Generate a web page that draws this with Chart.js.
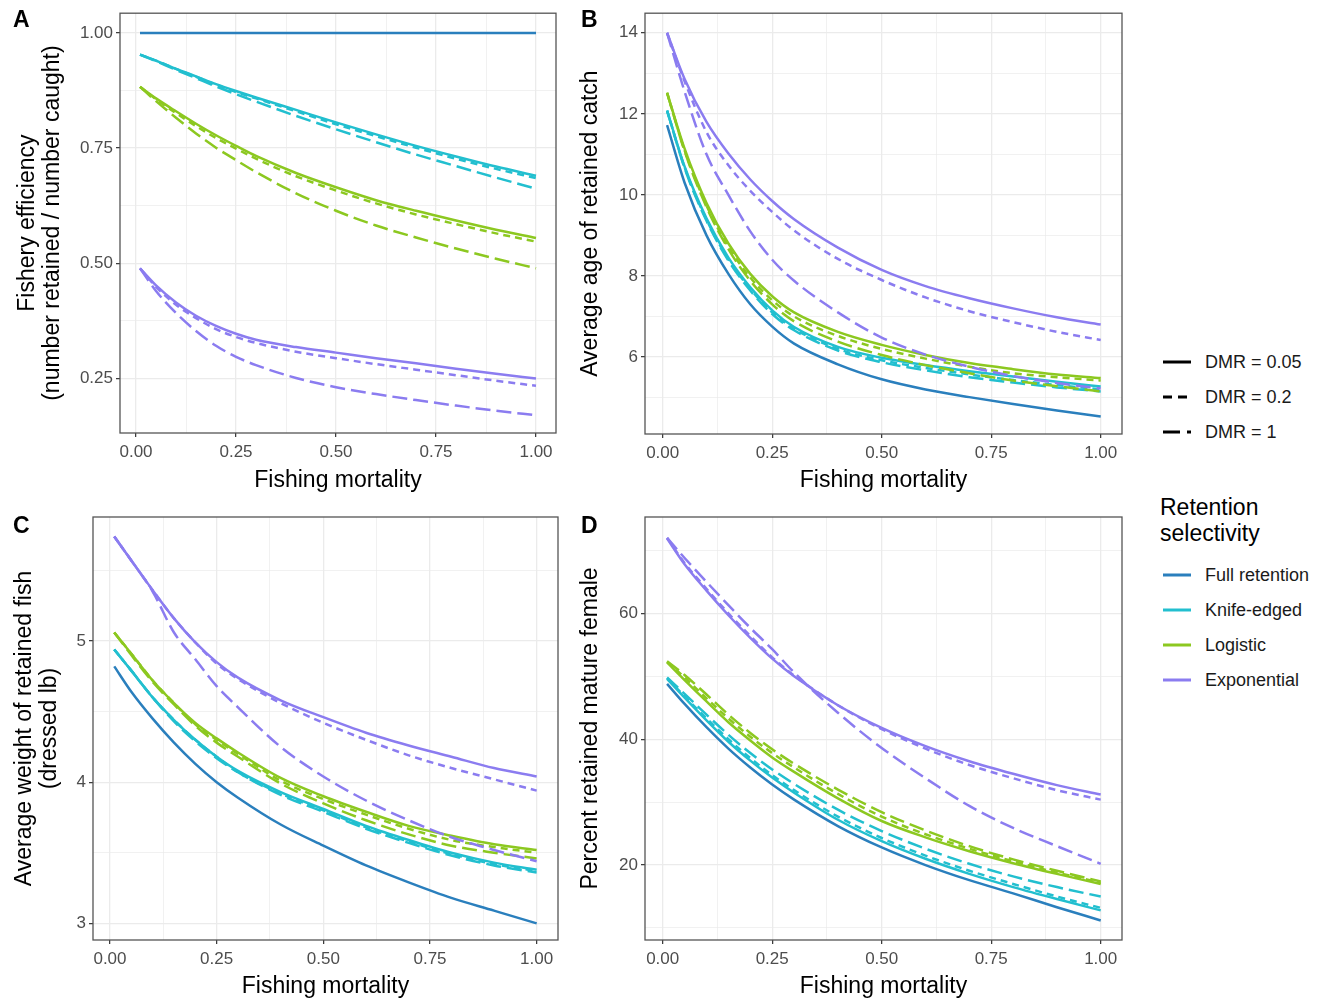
<!DOCTYPE html>
<html>
<head>
<meta charset="utf-8">
<script src="https://cdn.jsdelivr.net/npm/chart.js@4.4.1/dist/chart.umd.min.js"></script>
<style>
  body { margin: 0; background: #fff; font-family: "Liberation Sans", Arial, sans-serif; }
  #wrap { position: relative; width: 1318px; height: 1000px; overflow: hidden; }
  #wrap canvas { position: absolute; }
  .tag { position: absolute; font-weight: bold; font-size: 23px; line-height: 1; color: #000; }
  .key { position: absolute; left: 1162px; height: 22px; display: flex; align-items: center; font-size: 18px; color: #1a1a1a; white-space: nowrap; }
  .key svg { margin-right: 13px; }
  .ltitle { position: absolute; left: 1160px; top: 494px; font-size: 23px; line-height: 26px; color: #000; }
</style>
</head>
<body>
<div id="wrap">
  <canvas id="chartA" width="560" height="500" style="left:0;top:0"></canvas>
  <canvas id="chartB" width="580" height="500" style="left:560px;top:0"></canvas>
  <canvas id="chartC" width="560" height="500" style="left:0;top:500px"></canvas>
  <canvas id="chartD" width="580" height="500" style="left:560px;top:500px"></canvas>
  <div class="tag" style="left:13px;top:8px">A</div>
  <div class="tag" style="left:581px;top:8px">B</div>
  <div class="tag" style="left:13px;top:514px">C</div>
  <div class="tag" style="left:581px;top:514px">D</div>
  <div class="ltitle">Retention<br>selectivity</div>
  <div id="legend"></div>
</div>
<script>
// 横軸：漁獲死亡率
const fishingMortality = [0.01, 0.05, 0.1, 0.15, 0.2, 0.25, 0.3, 0.4, 0.5, 0.6, 0.7, 0.8, 0.9, 1.0];
const xTickValues = [0, 0.25, 0.5, 0.75, 1];
const xTickLabels = ['0.00', '0.25', '0.50', '0.75', '1.00'];

const dmrLabels = ['DMR = 0.05', 'DMR = 0.2', 'DMR = 1'];
const selectivityLabels = ['Full retention', 'Knife-edged', 'Logistic', 'Exponential'];

// A: Fishery efficiency（行は DMR 0.05 / 0.2 / 1）
const effTicks = [0.25, 0.5, 0.75, 1];
const effTickLabels = ['0.25', '0.50', '0.75', '1.00'];
const effFull = [1, 1, 1, 1, 1, 1, 1, 1, 1, 1, 1, 1, 1, 1];
const effKnife = [
  [0.953, 0.940, 0.922, 0.906, 0.889, 0.874, 0.860, 0.833, 0.806, 0.780, 0.755, 0.732, 0.710, 0.690],
  [0.953, 0.940, 0.922, 0.905, 0.888, 0.872, 0.858, 0.830, 0.802, 0.776, 0.751, 0.727, 0.705, 0.685],
  [0.953, 0.939, 0.920, 0.902, 0.884, 0.867, 0.851, 0.820, 0.791, 0.763, 0.736, 0.711, 0.686, 0.662]
];
const effLogistic = [
  [0.883, 0.858, 0.830, 0.803, 0.778, 0.755, 0.733, 0.696, 0.665, 0.637, 0.614, 0.593, 0.573, 0.555],
  [0.883, 0.856, 0.826, 0.798, 0.772, 0.749, 0.727, 0.689, 0.658, 0.630, 0.606, 0.585, 0.565, 0.547],
  [0.883, 0.852, 0.816, 0.782, 0.751, 0.724, 0.698, 0.652, 0.614, 0.582, 0.556, 0.532, 0.510, 0.489]
];
const effExpo = [
  [0.489, 0.452, 0.415, 0.386, 0.364, 0.347, 0.334, 0.318, 0.306, 0.294, 0.283, 0.271, 0.260, 0.250],
  [0.489, 0.449, 0.410, 0.381, 0.357, 0.340, 0.327, 0.308, 0.294, 0.281, 0.269, 0.257, 0.245, 0.234],
  [0.489, 0.440, 0.392, 0.353, 0.321, 0.297, 0.279, 0.251, 0.231, 0.216, 0.203, 0.191, 0.180, 0.170]
];

// B: Average age of retained catch
const ageTicks = [6, 8, 10, 12, 14];
const ageTickLabels = ['6', '8', '10', '12', '14'];
const ageFull = [11.72, 10.3, 9.0, 8.05, 7.3, 6.75, 6.33, 5.82, 5.45, 5.2, 5.01, 4.84, 4.68, 4.53];
const ageKnife = [
  [12.08, 10.7, 9.42, 8.45, 7.72, 7.15, 6.74, 6.25, 5.98, 5.8, 5.65, 5.52, 5.39, 5.27],
  [12.08, 10.68, 9.39, 8.41, 7.68, 7.1, 6.7, 6.2, 5.92, 5.73, 5.57, 5.43, 5.31, 5.2],
  [12.08, 10.66, 9.36, 8.38, 7.64, 7.06, 6.66, 6.16, 5.87, 5.67, 5.5, 5.37, 5.25, 5.15]
];
const ageLogistic = [
  [12.52, 11.14, 9.8, 8.8, 8.05, 7.5, 7.1, 6.62, 6.3, 6.05, 5.85, 5.7, 5.57, 5.48],
  [12.52, 11.1, 9.74, 8.72, 7.96, 7.4, 7.0, 6.52, 6.2, 5.96, 5.76, 5.6, 5.5, 5.42],
  [12.52, 11.08, 9.7, 8.66, 7.88, 7.3, 6.88, 6.38, 6.05, 5.8, 5.6, 5.42, 5.28, 5.15]
];
const ageExpo = [
  [14.0, 12.86, 11.8, 11.02, 10.38, 9.85, 9.4, 8.7, 8.15, 7.75, 7.45, 7.2, 6.98, 6.8],
  [14.0, 12.8, 11.55, 10.73, 10.1, 9.58, 9.12, 8.42, 7.9, 7.47, 7.13, 6.86, 6.62, 6.42],
  [14.0, 12.55, 11.0, 10.0, 9.1, 8.4, 7.88, 7.1, 6.48, 6.06, 5.76, 5.53, 5.36, 5.22]
];

// C: Average weight of retained fish
const wtTicks = [3, 4, 5];
const wtTickLabels = ['3', '4', '5'];
const wtFull = [4.82, 4.64, 4.45, 4.28, 4.13, 4.0, 3.89, 3.7, 3.55, 3.41, 3.29, 3.18, 3.09, 3.0];
const wtKnife = [
  [4.94, 4.79, 4.6, 4.44, 4.3, 4.18, 4.08, 3.93, 3.81, 3.69, 3.59, 3.5, 3.43, 3.38],
  [4.94, 4.79, 4.6, 4.44, 4.3, 4.18, 4.07, 3.92, 3.8, 3.68, 3.58, 3.49, 3.42, 3.37],
  [4.94, 4.79, 4.6, 4.43, 4.29, 4.17, 4.07, 3.91, 3.79, 3.67, 3.57, 3.48, 3.41, 3.36]
];
const wtLogistic = [
  [5.06, 4.91, 4.72, 4.56, 4.42, 4.31, 4.21, 4.03, 3.9, 3.79, 3.69, 3.62, 3.56, 3.52],
  [5.06, 4.91, 4.72, 4.56, 4.41, 4.3, 4.2, 4.01, 3.88, 3.77, 3.67, 3.59, 3.54, 3.5],
  [5.06, 4.9, 4.71, 4.55, 4.4, 4.28, 4.18, 3.99, 3.85, 3.73, 3.63, 3.55, 3.5, 3.46]
];
const wtExpo = [
  [5.74, 5.57, 5.36, 5.16, 4.99, 4.85, 4.74, 4.58, 4.46, 4.35, 4.26, 4.18, 4.1, 4.04],
  [5.74, 5.57, 5.36, 5.16, 4.99, 4.84, 4.73, 4.56, 4.42, 4.3, 4.19, 4.1, 4.02, 3.94],
  [5.74, 5.57, 5.35, 5.06, 4.87, 4.68, 4.53, 4.25, 4.04, 3.87, 3.73, 3.61, 3.52, 3.44]
];

// D: Percent retained mature female
const femTicks = [20, 40, 60];
const femTickLabels = ['20', '40', '60'];
const femFull = [48.8, 45.6, 41.9, 38.5, 35.5, 32.8, 30.4, 26.2, 22.8, 20.0, 17.6, 15.5, 13.3, 11.2];
const femKnife = [
  [49.6, 46.6, 43.0, 39.6, 36.6, 33.9, 31.5, 27.2, 23.8, 21.0, 18.6, 16.5, 14.6, 12.8],
  [49.7, 46.8, 43.3, 40.0, 37.0, 34.3, 31.9, 27.7, 24.3, 21.5, 19.1, 17.0, 15.0, 13.2],
  [49.8, 47.2, 43.9, 40.7, 37.8, 35.2, 32.9, 28.8, 25.4, 22.6, 20.2, 18.2, 16.5, 15.0]
];
const femLogistic = [
  [52.2, 49.4, 46.0, 42.7, 39.8, 37.1, 34.8, 30.6, 27.0, 24.4, 22.2, 20.3, 18.6, 17.0],
  [52.3, 49.8, 46.5, 43.3, 40.4, 37.8, 35.5, 31.3, 27.7, 24.9, 22.6, 20.6, 18.8, 17.2],
  [52.4, 50.2, 47.1, 43.9, 41.0, 38.4, 36.1, 32.0, 28.4, 25.5, 23.0, 20.9, 19.1, 17.4]
];
const femExpo = [
  [71.9, 67.8, 63.6, 59.7, 56.1, 52.8, 50.0, 45.4, 41.8, 38.9, 36.5, 34.5, 32.7, 31.2],
  [72.0, 68.0, 63.9, 60.0, 56.4, 53.0, 50.1, 45.4, 41.6, 38.5, 35.9, 33.8, 31.9, 30.4],
  [72.0, 68.8, 65.0, 61.3, 57.7, 54.3, 50.6, 44.2, 38.6, 33.8, 29.4, 25.9, 23.0, 20.2]
];

// 見た目の設定
const selColors = ['#2a7fbd', '#22bfcf', '#8cc820', '#8b7cf0'];
const dmrDash = [[], [7, 5], [15, 6]];
const dmrKeyDash = ['', '9 6', '17 7'];

Chart.defaults.font.family = '"Liberation Sans", Arial, sans-serif';
Chart.defaults.animation = false;

function buildSets(full, knife, logistic, expo) {
  const sets = [];
  [[full], knife, logistic, expo].forEach((rows, s) => {
    rows.forEach((vals, d) => {
      sets.push({
        label: selectivityLabels[s] + ', ' + dmrLabels[d],
        data: vals.map((v, i) => ({ x: fishingMortality[i], y: v })),
        borderColor: selColors[s],
        borderWidth: 2.5,
        borderDash: dmrDash[d],
        pointRadius: 0,
        cubicInterpolationMode: 'monotone',
        fill: false
      });
    });
  });
  return sets.reverse(); // 先頭が最前面になるので逆順に
}

// 主目盛りと、その間の補助目盛り
function gridValues(majors, min, max) {
  const half = (majors[1] - majors[0]) / 2;
  let v = majors[0];
  while (v - half >= min) v -= half;
  const out = [];
  for (; v <= max + 1e-9; v += half) out.push(+v.toFixed(6));
  return out;
}

function axis(min, max, majors, labels, title, size, isX) {
  const all = gridValues(majors, min, max);
  const idx = v => majors.findIndex(m => Math.abs(m - v) < 1e-9);
  return {
    type: 'linear',
    min: min,
    max: max,
    afterBuildTicks: s => { s.ticks = all.map(v => ({ value: v })); },
    afterFit: s => { if (isX) s.height = size; else s.width = size; },
    ticks: {
      autoSkip: false,
      maxRotation: 0,
      padding: isX ? 5 : 3,
      color: '#4d4d4d',
      font: { size: 17 },
      callback: v => { const i = idx(v); return i < 0 ? '' : labels[i]; }
    },
    grid: {
      color: '#ebebeb',
      lineWidth: c => idx(c.tick.value) >= 0 ? 1.3 : 0.7,
      tickLength: 4,
      tickWidth: 1.2,
      tickColor: c => idx(c.tick.value) >= 0 ? '#333333' : 'rgba(0,0,0,0)'
    },
    border: { display: false },
    title: title
  };
}

// パネルの枠線
const panelBorder = {
  id: 'panelBorder',
  afterDatasetsDraw(chart) {
    const { ctx, chartArea: a } = chart;
    ctx.save();
    ctx.strokeStyle = '#555555';
    ctx.lineWidth = 1.3;
    ctx.strokeRect(a.left, a.top, a.right - a.left, a.bottom - a.top);
    ctx.restore();
  }
};

function panel(id, sets, yMin, yMax, yTicks, yLabels, yTitle, box) {
  new Chart(document.getElementById(id), {
    type: 'line',
    data: { datasets: sets },
    plugins: [panelBorder],
    options: {
      responsive: false,
      layout: { padding: { top: box.top, right: box.right, left: 0, bottom: 0 } },
      plugins: { legend: { display: false }, tooltip: { enabled: false } },
      scales: {
        x: axis(box.xMin, box.xMax, xTickValues, xTickLabels, {
          display: true, text: 'Fishing mortality', color: '#000',
          font: { size: 23 }, padding: { top: 0, bottom: box.xTitlePad }
        }, box.xH, true),
        y: axis(yMin, yMax, yTicks, yLabels, {
          display: true, text: yTitle, color: '#000',
          font: { size: 23, lineHeight: 1.1 }, padding: { top: box.yTitlePad, bottom: 0 }
        }, box.yW, false)
      }
    }
  });
}

panel('chartA', buildSets(effFull, effKnife, effLogistic, effExpo), 0.1315, 1.043, effTicks, effTickLabels,
  ['Fishery efficiency', '(number retained / number caught)'],
  { top: 10, right: 4, yW: 120, xH: 67, xMin: -0.04, xMax: 1.05, xTitlePad: 6, yTitlePad: 15 });

panel('chartB', buildSets(ageFull, ageKnife, ageLogistic, ageExpo), 4.1, 14.483, ageTicks, ageTickLabels,
  'Average age of retained catch',
  { top: 11, right: 18, yW: 85, xH: 66, xMin: -0.0404, xMax: 1.0486, xTitlePad: 6, yTitlePad: 18 });

panel('chartC', buildSets(wtFull, wtKnife, wtLogistic, wtExpo), 2.882, 5.878, wtTicks, wtTickLabels,
  ['Average weight of retained fish', '(dressed lb)'],
  { top: 17, right: 2, yW: 93, xH: 60, xMin: -0.0398, xMax: 1.05, xTitlePad: 0, yTitlePad: 12 });

panel('chartD', buildSets(femFull, femKnife, femLogistic, femExpo), 8.09, 75.31, femTicks, femTickLabels,
  'Percent retained mature female',
  { top: 17, right: 18, yW: 85, xH: 60, xMin: -0.0404, xMax: 1.0486, xTitlePad: 0, yTitlePad: 18 });

// 凡例
const legend = document.getElementById('legend');
function addKey(cy, color, dash, text) {
  const row = document.createElement('div');
  row.className = 'key';
  row.style.top = (cy - 11) + 'px';
  row.innerHTML = '<svg width="30" height="6"><line x1="1" y1="3" x2="29" y2="3" stroke="' + color +
    '" stroke-width="3" stroke-dasharray="' + dash + '"/></svg>';
  const span = document.createElement('span');
  span.textContent = text;
  row.appendChild(span);
  legend.appendChild(row);
}
dmrLabels.forEach((lab, i) => addKey(362 + i * 35, '#000', dmrKeyDash[i], lab));
selectivityLabels.forEach((lab, i) => addKey(575 + i * 35, selColors[i], '', lab));
</script>
</body>
</html>
